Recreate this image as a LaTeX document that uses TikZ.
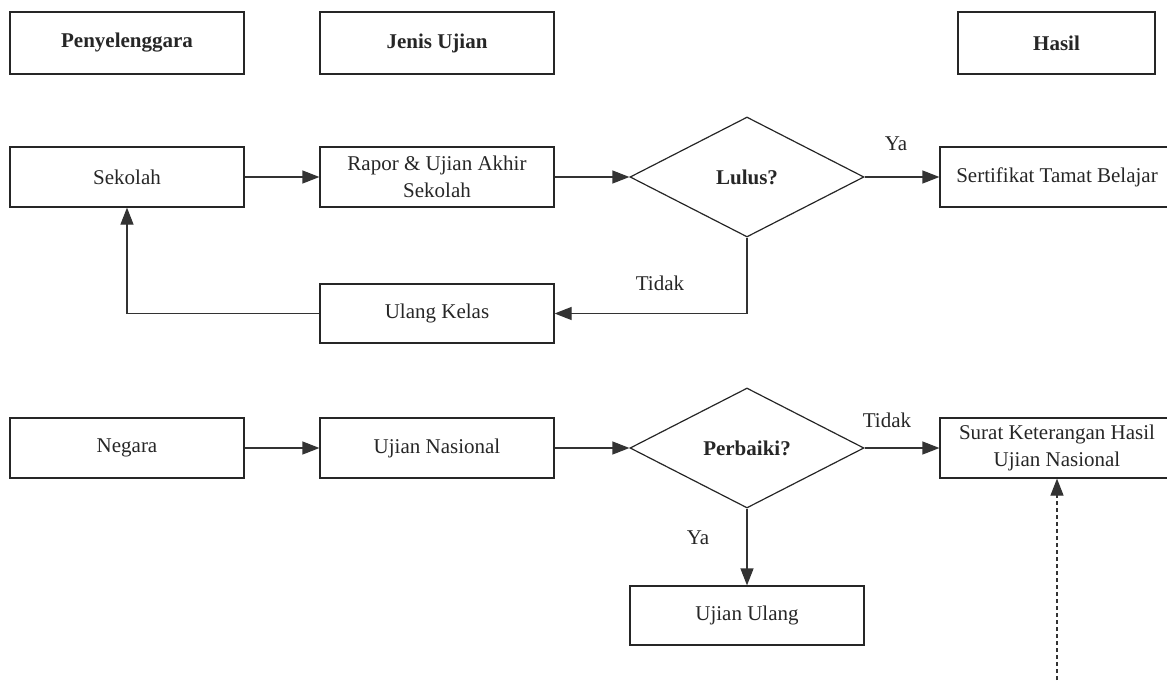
\documentclass[tikz,border=0pt]{standalone}
\usepackage{fontspec}
\setmainfont{Liberation Serif}
\usetikzlibrary{arrows.meta,shapes.geometric}
\begin{document}
\begin{tikzpicture}[x=1pt,y=-1pt,
  every node/.style={font=\fontsize{21}{27}\selectfont, text=black!85},
  box/.style={draw=black!85, line width=1.2pt, minimum width=234pt, minimum height=60pt, align=center, inner sep=0pt},
  hdr/.style={box, minimum height=62pt, font=\fontsize{21}{27}\selectfont\bfseries},
  dec/.style={draw=black!85, line width=1.2pt, shape=diamond, minimum width=234pt, minimum height=120pt, inner sep=0pt, font=\fontsize{21}{27}\selectfont\bfseries},
  conn/.style={draw=black!80, line width=1.2pt, -{Triangle[length=17pt,width=13pt]}},
  lbl/.style={inner sep=0pt}]
\useasboundingbox (0,0) rectangle (1167,680);
% headers
\node[hdr] (h1) at (127,43) {Penyelenggara};
\node[hdr] (h2) at (437,43) {Jenis Ujian};
\node[hdr, minimum width=197pt] (h3) at (1056.5,43) {Hasil};
% row 1
\node[box] (sek) at (127,177) {Sekolah};
\node[box] (rap) at (437,177) {Rapor \& Ujian Akhir\\Sekolah};
\node[dec] (lul) at (747,177) {Lulus?};
\node[box] (ser) at (1057,177) {Sertifikat Tamat Belajar};
\node[box, minimum height=59pt] (ulk) at (437,313.5) {Ulang Kelas};
% row 2
\node[box] (neg) at (127,448) {Negara};
\node[box] (uns) at (437,448) {Ujian Nasional};
\node[dec] (per) at (747,448) {Perbaiki?};
\node[box] (sur) at (1057,448) {Surat Keterangan Hasil\\Ujian Nasional};
\node[box, minimum height=59pt] (uul) at (747,615.5) {Ujian Ulang};
\coordinate (dstart) at (1057,680);
% connectors row 1
\draw[conn] (sek) -- (rap);
\draw[conn] (rap) -- (lul);
\draw[conn] (lul) -- (ser);
\draw[conn] (lul.south) |- (ulk.east);
\draw[conn] (ulk.west) -| (sek.south);
\node[lbl] (ya1) at (896,144) {Ya};
\node[lbl] (td1) at (660,283) {Tidak};
% connectors row 2
\draw[conn] (neg) -- (uns);
\draw[conn] (uns) -- (per);
\draw[conn] (per) -- (sur);
\draw[conn] (per.south) -- (uul.north);
\node[lbl] (td2) at (887,420) {Tidak};
\node[lbl] (ya2) at (698,538) {Ya};
\draw[conn, dashed, dash pattern=on 4pt off 3pt] (dstart) -- (sur.south);
\end{tikzpicture}
\end{document}
